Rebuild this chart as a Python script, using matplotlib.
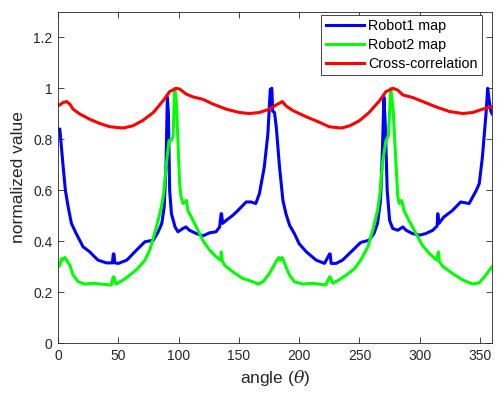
import numpy as np
import matplotlib
matplotlib.use("Agg")
import matplotlib.pyplot as plt

plt.rcParams['font.family'] = ['Liberation Sans', 'DejaVu Sans']
plt.rcParams['mathtext.fontset'] = 'dejavuserif'

# Robot1 map
x1 = [0, 1.4, 4, 6, 8.3, 11, 15, 20.7, 26, 33, 40, 45, 45.8, 46.3, 47, 50, 57, 65, 72, 79, 83,
      86, 88, 89.5, 90.6, 91.5, 92.5, 94, 97, 99.4, 103.6, 106, 109, 114.6, 120, 125.7, 131,
      134, 135.2, 135.6, 136.5, 139.5, 145, 149, 156, 160, 164, 167, 168.5, 171, 174, 176,
      177.3, 178, 179.5, 181, 183.7, 186.5, 189, 192, 196, 200, 206, 214, 221, 225.2, 225.7,
      226.5, 230.7, 236, 244.5, 251, 258, 262, 265, 267.5, 269, 270.3, 271.5, 273, 275, 277.6,
      281.8, 286, 288.7, 294, 300, 305, 310.8, 314.5, 315, 316, 320, 327, 334, 341, 347, 349.4,
      352, 355, 356.4, 357.7, 359, 360]
y1 = [0.84, 0.84, 0.70, 0.60, 0.535, 0.47, 0.43, 0.378, 0.359, 0.326, 0.315, 0.315, 0.35,
      0.35, 0.315, 0.313, 0.326, 0.365, 0.398, 0.404, 0.437, 0.47, 0.535, 0.70, 0.965, 0.90,
      0.60, 0.508, 0.456, 0.437, 0.45, 0.456, 0.443, 0.43, 0.421, 0.433, 0.437, 0.456, 0.508,
      0.508, 0.47, 0.482, 0.502, 0.52, 0.554, 0.554, 0.548, 0.587, 0.626, 0.69, 0.82, 0.996,
      1.0, 0.91, 0.905, 0.847, 0.69, 0.56, 0.508, 0.463, 0.43, 0.39, 0.358, 0.326, 0.313,
      0.35, 0.35, 0.313, 0.313, 0.326, 0.365, 0.395, 0.404, 0.43, 0.47, 0.56, 0.75, 0.965,
      0.85, 0.60, 0.482, 0.45, 0.443, 0.456, 0.443, 0.43, 0.424, 0.43, 0.443, 0.46, 0.508,
      0.47, 0.495, 0.52, 0.554, 0.548, 0.60, 0.626, 0.73, 0.90, 1.0, 0.95, 0.91, 0.90]

# Robot2 map
x2 = [0, 1.4, 2.8, 4, 5.5, 7, 9.7, 12.4, 16.6, 22, 29, 37, 44, 45.8, 46.3, 48, 54, 59.4, 66,
      72, 76, 80, 83, 85.6, 87.6, 89.8, 92, 94, 95.3, 96.7, 98, 99.4, 100.8, 102, 103.6,
      106.4, 107.7, 110.5, 114.6, 120, 125.7, 131, 134.8, 135.4, 136, 138, 145, 153, 161.6,
      165.7, 170, 175.4, 181.5, 183, 184, 186, 189, 192, 196, 203, 211, 222, 225.2, 225.7,
      228, 233, 239, 246, 251, 257, 261, 265, 267, 269, 272, 274, 276, 278, 280, 281.8, 283,
      285, 287, 291, 297, 302, 308, 314, 315.5, 316.3, 319, 327, 335.6, 344, 349.4, 353.6,
      360]
y2 = [0.30, 0.306, 0.332, 0.326, 0.336, 0.326, 0.306, 0.267, 0.241, 0.232, 0.235, 0.231,
      0.228, 0.26, 0.26, 0.232, 0.248, 0.267, 0.293, 0.326, 0.365, 0.43, 0.482, 0.535, 0.587,
      0.704, 0.795, 0.795, 0.81, 1.0, 0.95, 0.795, 0.626, 0.574, 0.548, 0.56, 0.52, 0.495,
      0.456, 0.404, 0.365, 0.339, 0.326, 0.358, 0.326, 0.306, 0.28, 0.254, 0.241, 0.232,
      0.241, 0.274, 0.326, 0.336, 0.326, 0.336, 0.30, 0.267, 0.241, 0.232, 0.235, 0.228,
      0.26, 0.26, 0.235, 0.248, 0.267, 0.293, 0.326, 0.378, 0.443, 0.52, 0.587, 0.704, 0.795,
      0.814, 1.0, 0.91, 0.73, 0.574, 0.548, 0.56, 0.52, 0.482, 0.43, 0.385, 0.352, 0.326,
      0.358, 0.32, 0.302, 0.274, 0.248, 0.232, 0.237, 0.26, 0.30]

# Cross-correlation
x3 = [0, 1.4, 4, 7, 9.7, 12.4, 18, 26, 34.5, 43, 54, 62, 70, 79, 87, 92.5, 98, 100.8, 106.4,
      112, 120, 128.5, 139.5, 150.5, 159, 167, 175, 181, 186, 189, 195, 206, 217, 225, 235,
      242, 250, 258, 266.6, 272, 278, 282, 286, 294, 302.5, 313.5, 324.6, 335.6, 344, 352,
      359, 360]
y3 = [0.932, 0.935, 0.944, 0.948, 0.938, 0.918, 0.899, 0.879, 0.862, 0.849, 0.844, 0.853,
      0.873, 0.905, 0.951, 0.987, 1.0, 0.997, 0.977, 0.966, 0.957, 0.938, 0.918, 0.905,
      0.901, 0.905, 0.918, 0.935, 0.948, 0.931, 0.912, 0.888, 0.866, 0.849, 0.844, 0.853,
      0.873, 0.905, 0.951, 0.987, 1.0, 0.992, 0.974, 0.964, 0.948, 0.927, 0.909, 0.901,
      0.905, 0.918, 0.927, 0.928]

fig = plt.figure(figsize=(4.97, 3.94), dpi=100)
ax = fig.add_axes([0.117, 0.129, 0.873, 0.841])

ax.plot(x1, y1, color='#0000ff', lw=2.2, label='Robot1 map')
ax.plot(x2, y2, color='#00ff00', lw=2.2, label='Robot2 map')
ax.plot(x3, y3, color='#ff0000', lw=2.2, label='Cross-correlation')

ax.set_xlim(0, 360)
ax.set_ylim(0, 1.3)
ax.set_xticks(np.arange(0, 351, 50))
ax.set_yticks([0, 0.2, 0.4, 0.6, 0.8, 1.0, 1.2])
ax.set_yticklabels(['0', '0.2', '0.4', '0.6', '0.8', '1', '1.2'])
ax.tick_params(direction='in', top=True, right=True, labelsize=10, colors='#262626',
               length=4, width=0.6, pad=4)
for s in ax.spines.values():
    s.set_color('#262626')
    s.set_linewidth(0.6)

ax.set_xlabel(r'angle ($\theta$)', fontsize=12.5, color='#262626', labelpad=4)
ax.set_ylabel('normalized value', fontsize=12.5, color='#262626', labelpad=5)

leg = ax.legend(loc='upper right', bbox_to_anchor=(0.977, 0.991), fontsize=10.3,
                fancybox=False, framealpha=1, edgecolor='#262626', handlelength=2.7,
                handletextpad=0.28, borderpad=0.3, labelspacing=0.33, borderaxespad=0)
leg.get_frame().set_linewidth(0.6)

fig.savefig('out.png', dpi=100)
